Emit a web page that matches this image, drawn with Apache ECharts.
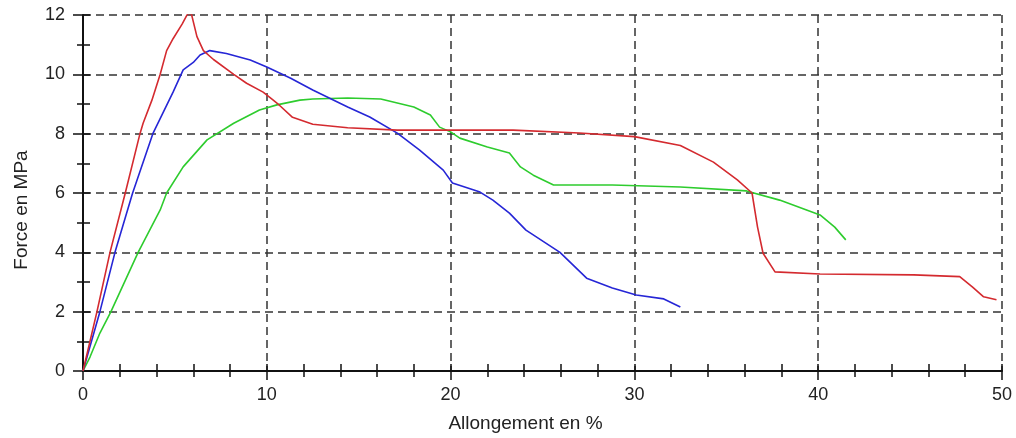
<!DOCTYPE html>
<html>
<head>
<meta charset="utf-8">
<script src="https://cdn.jsdelivr.net/npm/echarts@6/dist/echarts.min.js"></script>
<style>
  html, body { margin: 0; padding: 0; background: #fff; }
  #chart { width: 1016px; height: 438px; }
</style>
</head>
<body>
<div id="chart"></div>
<script>
// courbes force / allongement (x en %, y en MPa)
var red_x = [0, 0.76, 1.47, 2.3, 3.1, 3.27, 3.75, 4.2, 4.55, 4.9, 5.4, 5.7, 5.9, 6.2, 6.55, 7.1, 8.2, 8.9, 9.8, 10.35, 10.7, 11.4, 12.5, 14.4, 17.1, 20, 23.4, 27, 30, 32.5, 34.3, 35.6, 36.4, 36.7, 37.0, 37.65, 40.1, 45.2, 47.7, 48.4, 49.0, 49.7];
var red_y = [0, 2, 4, 6, 8, 8.35, 9.13, 10.0, 10.8, 11.2, 11.7, 12.05, 12.03, 11.27, 10.8, 10.5, 10.0, 9.7, 9.4, 9.13, 8.95, 8.55, 8.32, 8.2, 8.12, 8.12, 8.12, 8.02, 7.9, 7.6, 7.04, 6.44, 6.0, 4.85, 3.97, 3.34, 3.27, 3.24, 3.18, 2.83, 2.5, 2.4];

var blue_x = [0, 0.92, 1.74, 2.7, 3.8, 4.35, 4.9, 5.45, 6.0, 6.37, 6.9, 7.8, 9.1, 10.0, 11.3, 12.5, 14.4, 15.6, 17.1, 18.3, 19.6, 20.1, 21.6, 22.3, 23.2, 24.1, 25.95, 27.4, 28.8, 30.1, 31.6, 32.5];
var blue_y = [0, 2, 4, 6, 8, 8.7, 9.4, 10.15, 10.4, 10.65, 10.8, 10.7, 10.48, 10.25, 9.87, 9.47, 8.9, 8.56, 8.02, 7.45, 6.77, 6.34, 6.03, 5.76, 5.32, 4.75, 4.0, 3.13, 2.8, 2.56, 2.43, 2.16];

var green_x = [0, 0.38, 0.92, 1.52, 3.0, 4.2, 4.55, 5.45, 6.75, 8.2, 9.6, 10.55, 11.8, 12.5, 14.4, 16.2, 18.0, 18.9, 19.4, 20.0, 20.5, 22.0, 23.2, 23.8, 24.5, 25.6, 28.8, 32.5, 36.1, 37.9, 40.1, 40.9, 41.5];
var green_y = [0, 0.47, 1.28, 2, 4, 5.43, 6, 6.88, 7.79, 8.35, 8.8, 8.97, 9.13, 9.17, 9.2, 9.17, 8.9, 8.63, 8.22, 8.06, 7.85, 7.55, 7.35, 6.88, 6.6, 6.27, 6.27, 6.2, 6.07, 5.76, 5.26, 4.85, 4.42];

function pairs(xs, ys) {
    var out = [];
    for (var i = 0; i < xs.length; i++) {
        out.push([xs[i], ys[i]]);
    }
    return out;
}

var txt = { color: '#222', fontFamily: 'Liberation Sans', fontSize: 18 };
var nameTxt = { color: '#222', fontFamily: 'Liberation Sans', fontSize: 19, padding: [0, 34, 0, 0] };
var dash = { color: '#333', type: [8, 5], width: 1.5 };

var myChart = echarts.init(document.getElementById('chart'));

var option = {
    animation: false,
    grid: { left: 83, right: 14, top: 15, bottom: 67 },
    xAxis: [{
        type: 'value', min: 0, max: 50, interval: 10,
        name: 'Allongement en %', nameLocation: 'middle', nameGap: 43,
        nameTextStyle: nameTxt,
        axisLine: { onZero: false, lineStyle: { color: '#111', width: 2 } },
        axisTick: { length: 9, lineStyle: { color: '#111', width: 1.5 } },
        minorTick: { show: true, splitNumber: 5, length: 6, lineStyle: { color: '#111', width: 1.5 } },
        axisLabel: Object.assign({ margin: 15 }, txt),
        splitLine: { show: true, lineStyle: dash }
    }, {
        // ticks vers l'interieur
        type: 'value', min: 0, max: 50, interval: 10, position: 'bottom',
        axisLine: { show: false },
        axisTick: { inside: true, length: 7, lineStyle: { color: '#111', width: 1.5 } },
        minorTick: { show: true, splitNumber: 5, length: 7, lineStyle: { color: '#111', width: 1.5 } },
        axisLabel: { show: false },
        splitLine: { show: false }
    }],
    yAxis: [{
        type: 'value', min: 0, max: 12, interval: 2,
        name: 'Force en MPa', nameLocation: 'middle', nameGap: 52,
        nameTextStyle: nameTxt,
        axisLine: { show: true, onZero: false, lineStyle: { color: '#111', width: 2 } },
        axisTick: { show: true, length: 10, lineStyle: { color: '#111', width: 1.5 } },
        minorTick: { show: true, splitNumber: 2, length: 6, lineStyle: { color: '#111', width: 1.5 } },
        axisLabel: Object.assign({ margin: 18 }, txt),
        splitLine: { show: true, lineStyle: dash }
    }, {
        type: 'value', min: 0, max: 12, interval: 2, position: 'left',
        axisLine: { show: false },
        axisTick: { show: true, inside: true, length: 7, lineStyle: { color: '#111', width: 1.5 } },
        minorTick: { show: true, splitNumber: 2, length: 7, lineStyle: { color: '#111', width: 1.5 } },
        axisLabel: { show: false },
        splitLine: { show: false }
    }],
    series: [{
        type: 'line', showSymbol: false, data: pairs(green_x, green_y),
        lineStyle: { color: '#2ecc2e', width: 1.6 }
    }, {
        type: 'line', showSymbol: false, data: pairs(blue_x, blue_y),
        lineStyle: { color: '#2626d6', width: 1.6 }
    }, {
        type: 'line', showSymbol: false, data: pairs(red_x, red_y),
        lineStyle: { color: '#d42a2f', width: 1.6 }
    }]
};
myChart.setOption(option);
</script>
</body>
</html>
